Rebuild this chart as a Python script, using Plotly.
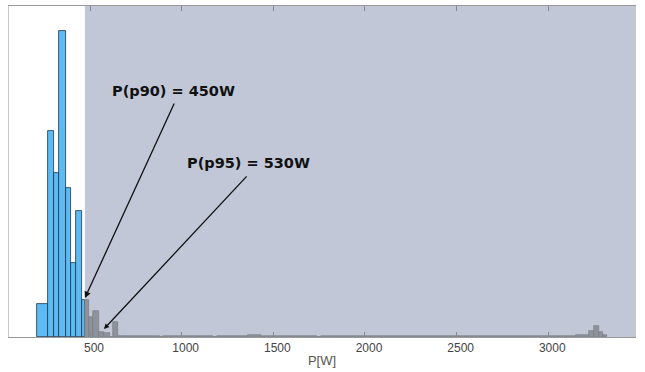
import plotly.graph_objects as go

# Histogram bins (W) and counts
blue_edges = [212, 272, 303, 332, 367, 398, 422, 458, 472]
blue_counts = [108, 672, 535, 998, 486, 241, 411, 121]

grey_edges = [472, 495, 516, 549, 576, 609, 625, 652, 690, 880, 900, 1170, 1190, 1360, 1430, 1740, 1760, 3150, 3224, 3250, 3278, 3298, 3318]
grey_counts = [121, 65, 85, 16, 13, 0, 49, 4, 4, 0, 4, 0, 4, 8, 4, 0, 4, 5, 20, 36, 16, 8]

tick_vals = [500, 1000, 1500, 2000, 2500, 3000]
tick_text = ["500", "1000", "1500", "2000", "2500", "3000"]

x_range = [58, 3473]
y_range = [0, 1080]
p90 = 472
x_title = "P[W]"
label_p90 = "P(p90) = 450W"
label_p95 = "P(p95) = 530W"


def centers(edges):
    return [(a + b) / 2 for a, b in zip(edges[:-1], edges[1:])]


def widths(edges):
    return [b - a for a, b in zip(edges[:-1], edges[1:])]


fig = go.Figure()
fig.add_trace(go.Bar(
    x=centers(blue_edges), y=blue_counts, width=widths(blue_edges),
    marker=dict(color="#5cbbf2", line=dict(color="#22344a", width=0.8)),
    showlegend=False,
))
fig.add_trace(go.Bar(
    x=centers(grey_edges), y=grey_counts, width=widths(grey_edges),
    marker=dict(color="#8e929b", line=dict(color="#74787f", width=0.6)),
    showlegend=False,
))

fig.add_shape(type="rect", xref="x", yref="paper", x0=p90, x1=x_range[1], y0=0, y1=1,
              fillcolor="#c1c7d7", line=dict(width=0), layer="below")

ann_font = dict(family="DejaVu Sans", size=14.5, color="#111111", weight="bold")
fig.add_annotation(x=958, y=803, text=label_p90, showarrow=False, font=ann_font)
fig.add_annotation(x=1362, y=568, text=label_p95, showarrow=False, font=ann_font)
fig.add_annotation(x=472, y=127, ax=963, ay=767, axref="x", ayref="y", text="",
                   showarrow=True, arrowhead=2, arrowsize=1, arrowwidth=1.3, arrowcolor="#111111")
fig.add_annotation(x=576, y=26, ax=1362, ay=529, axref="x", ayref="y", text="",
                   showarrow=True, arrowhead=2, arrowsize=0.8, arrowwidth=1.3, arrowcolor="#111111")

fig.update_layout(
    width=645, height=372,
    margin=dict(l=9, r=10, t=6, b=35),
    paper_bgcolor="white", plot_bgcolor="white",
    bargap=0, barmode="overlay",
    font=dict(family="Liberation Sans", color="#444444"),
)
fig.update_xaxes(
    range=x_range, tickvals=tick_vals, ticktext=tick_text,
    ticks="inside", ticklen=5, tickcolor="#888888", mirror="ticks",
    showline=True, linecolor="#999999", linewidth=1,
    showgrid=False, zeroline=False, ticklabelshift=4,
    tickfont=dict(size=12, color="#444444"),
    title=dict(text=x_title, font=dict(size=13, color="#555555"), standoff=1),
)
fig.update_yaxes(
    range=y_range, showticklabels=False, ticks="", showgrid=False, zeroline=False,
    showline=True, linecolor="#c8c8c8", linewidth=1, mirror=True,
)

fig.write_html("out.html")
